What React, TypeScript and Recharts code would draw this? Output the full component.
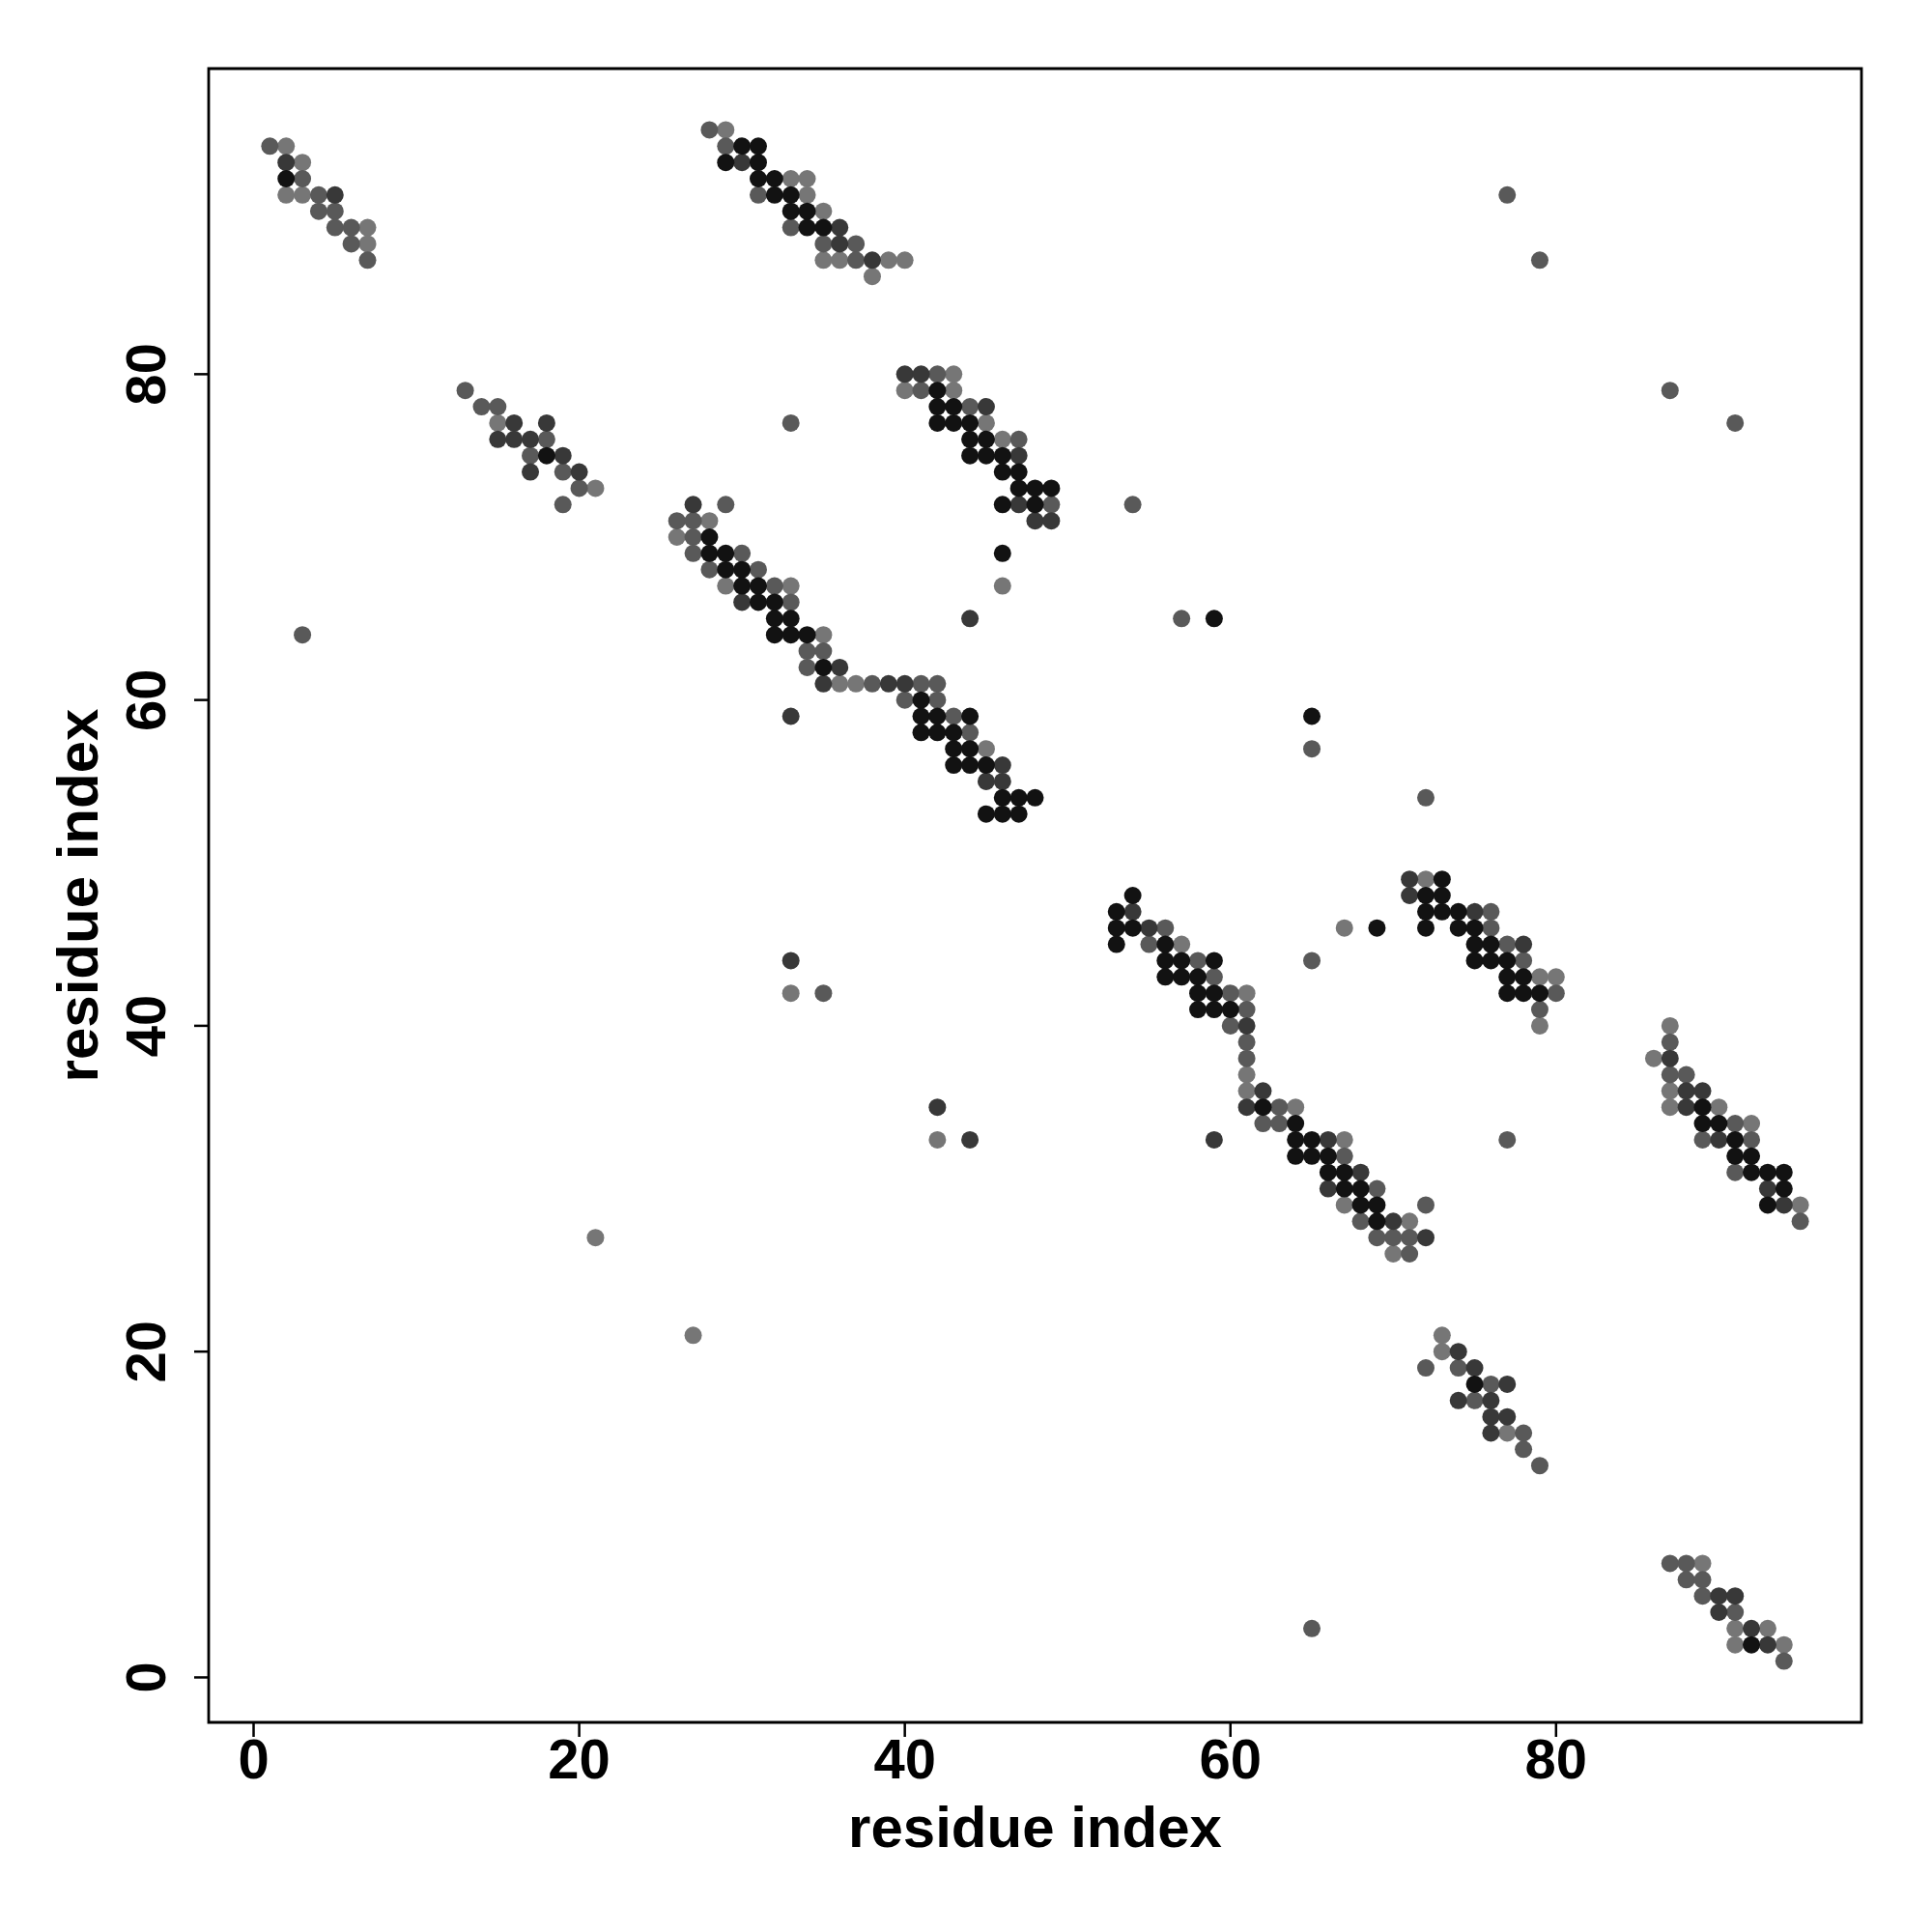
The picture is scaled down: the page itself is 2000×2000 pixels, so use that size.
import { ScatterChart, Scatter, XAxis, YAxis, ReferenceArea, Label } from 'recharts'

// contact map: [x, y] residue pairs, grouped by shade
const LIGHT: [number, number][] = [
  [2, 94], [3, 93], [2, 91], [3, 91], [7, 89], [7, 88],
  [29, 95], [33, 92], [34, 92], [34, 91], [35, 90], [35, 87], [36, 87], [39, 87], [40, 87], [38, 86],
  [15, 77], [21, 73],
  [43, 80], [40, 79], [43, 79], [45, 77], [46, 76],
  [28, 71], [26, 70], [29, 67], [33, 67], [35, 64], [36, 61], [37, 61],
  [45, 57],
  [57, 45], [61, 42], [61, 37], [61, 36], [64, 35], [67, 33], [67, 29], [71, 28], [70, 26],
  [72, 49], [79, 43], [80, 43], [79, 40],
  [87, 40], [86, 38], [87, 36], [87, 35], [90, 35], [92, 34], [95, 29],
  [73, 21], [73, 20], [77, 15],
  [89, 7], [91, 3], [93, 3], [91, 2], [94, 2],
  [46, 67], [67, 46], [33, 42], [42, 33], [21, 27], [27, 21],
]

const MID: [number, number][] = [
  [1, 94], [3, 92], [4, 91], [4, 90], [5, 90], [5, 89], [6, 89], [6, 88], [7, 87],
  [28, 95], [29, 94], [31, 91], [33, 89], [35, 88], [37, 88], [37, 87],
  [13, 79], [14, 78], [15, 78], [18, 76], [17, 75], [19, 74], [20, 73], [19, 72],
  [42, 80], [41, 79], [44, 78], [47, 76], [49, 72],
  [29, 72], [26, 71], [27, 71], [27, 70], [27, 69], [30, 69], [28, 68], [31, 68], [32, 67], [33, 66],
  [34, 63], [35, 63], [34, 62], [38, 61], [41, 61], [42, 61],
  [40, 60], [42, 60], [43, 59], [44, 58],
  [56, 46], [55, 45], [58, 44], [59, 43], [60, 42], [61, 41], [60, 40], [61, 39], [61, 38],
  [63, 35], [62, 34], [63, 34], [67, 32], [69, 30], [72, 29], [68, 28], [69, 27], [70, 27], [71, 27], [71, 26],
  [76, 47], [76, 46], [77, 45], [78, 44], [80, 42], [79, 41],
  [87, 39], [87, 37], [88, 37], [91, 34], [89, 33], [92, 33], [91, 31], [95, 28],
  [72, 19], [74, 19], [76, 18], [75, 17], [78, 15], [78, 14], [79, 13],
  [87, 7], [88, 7], [88, 6], [89, 6], [89, 5], [91, 4], [94, 1],
  [77, 91], [79, 87], [87, 79], [91, 77], [33, 77], [54, 72], [72, 54], [57, 65], [65, 57],
  [3, 64], [65, 44], [35, 42], [77, 33], [65, 3],
]

const DARK: [number, number][] = [
  [2, 93], [5, 91],
  [30, 93], [36, 89], [36, 88], [38, 87],
  [16, 77], [18, 77], [15, 76], [16, 76], [17, 76], [19, 75], [17, 74], [20, 74],
  [40, 80], [41, 80], [45, 78], [47, 75], [47, 72], [48, 71], [49, 71],
  [27, 72], [30, 66], [36, 62], [35, 61],
  [39, 61], [40, 61], [46, 56], [45, 55], [46, 55],
  [54, 47], [55, 46], [61, 40], [62, 36], [61, 35], [66, 33], [68, 31], [66, 30], [70, 28], [72, 27],
  [71, 49], [71, 48], [75, 47], [78, 45],
  [87, 38], [88, 36], [89, 36], [88, 35], [90, 33], [93, 30], [94, 29],
  [74, 20], [75, 19], [77, 18], [74, 17], [76, 17], [76, 16], [77, 16], [76, 15],
  [90, 5], [91, 5], [90, 4], [92, 3], [93, 2],
  [44, 65], [33, 59], [33, 44], [42, 35], [44, 33], [59, 33],
]

const BLACK: [number, number][] = [
  [2, 92],
  [30, 94], [31, 94], [29, 93], [31, 93], [31, 92], [32, 92], [32, 91], [33, 91], [33, 90], [34, 90], [34, 89], [35, 89],
  [18, 75],
  [42, 79], [42, 78], [43, 78], [42, 77], [43, 77], [44, 77], [44, 76], [45, 76], [44, 75], [45, 75], [46, 75],
  [46, 74], [47, 74], [47, 73], [48, 73], [49, 73], [46, 72], [48, 72],
  [28, 70], [28, 69], [29, 69], [29, 68], [30, 68], [30, 67], [31, 67], [31, 66], [32, 66], [32, 65], [33, 65],
  [32, 64], [33, 64], [34, 64], [35, 62],
  [41, 60], [41, 59], [42, 59], [44, 59], [41, 58], [42, 58], [43, 58], [43, 57], [44, 57], [43, 56], [44, 56], [45, 56],
  [46, 54], [47, 54], [48, 54], [45, 53], [46, 53], [47, 53],
  [54, 48], [53, 47], [53, 46], [54, 46], [53, 45], [56, 45], [56, 44], [57, 44], [59, 44], [56, 43], [57, 43], [58, 43],
  [58, 42], [59, 42], [58, 41], [59, 41], [60, 41], [62, 35], [64, 34], [64, 33], [65, 33], [64, 32], [65, 32], [66, 32],
  [66, 31], [67, 31], [67, 30], [68, 30], [68, 29], [69, 29], [69, 28],
  [73, 49], [72, 48], [73, 48], [72, 47], [73, 47], [74, 47], [72, 46], [74, 46], [75, 46], [75, 45], [76, 45],
  [75, 44], [76, 44], [77, 44], [77, 43], [78, 43], [77, 42], [78, 42], [79, 42],
  [89, 35], [89, 34], [90, 34], [91, 33], [91, 32], [92, 32], [92, 31], [93, 31], [94, 31], [94, 30], [93, 29],
  [75, 18],
  [92, 2],
  [46, 69], [69, 46], [59, 65], [65, 59],
]

const TICKS = [0, 20, 40, 60, 80]
const DOMAIN: [number, number] = [-2.76, 98.76]

const SHADES = [
  { name: 'light', pts: LIGHT, color: '#767676' },
  { name: 'mid', pts: MID, color: '#595959' },
  { name: 'dark', pts: DARK, color: '#383838' },
  { name: 'black', pts: BLACK, color: '#121212' },
]

const FONT = '"Liberation Sans", Arial, Helvetica, sans-serif'

const XTick = (props: any) => (
  <text x={props.x} y={props.y + 41} textAnchor="middle" fontFamily={FONT} fontWeight="bold" fontSize={58} fill="#000">
    {props.payload.value}
  </text>
)

const YTick = (props: any) => {
  const bx = props.x - 28
  return (
    <text x={bx} y={props.y} transform={`rotate(-90, ${bx}, ${props.y})`} textAnchor="middle" fontFamily={FONT} fontWeight="bold" fontSize={58} fill="#000">
      {props.payload.value}
    </text>
  )
}

const XTitle = (props: any) => {
  const vb = props.viewBox
  return (
    <text x={vb.x + vb.width / 2} y={vb.y + 129} textAnchor="middle" fontFamily={FONT} fontWeight="bold" fontSize={60} fill="#000">
      residue index
    </text>
  )
}

const YTitle = (props: any) => {
  const vb = props.viewBox
  const bx = vb.x + 101
  const cy = vb.y + vb.height / 2
  return (
    <text x={bx} y={cy} transform={`rotate(-90, ${bx}, ${cy})`} textAnchor="middle" fontFamily={FONT} fontWeight="bold" fontSize={60} fill="#000">
      residue index
    </text>
  )
}

export default function App() {
  return (
    <div style={{ position: 'absolute', left: 0, top: 0, width: 2000, height: 2000, background: '#fff' }}>
      <ScatterChart width={2000} height={2000} margin={{ top: 71, right: 73, bottom: 0, left: 0 }}>
        <XAxis
          dataKey="x" type="number" domain={DOMAIN} ticks={TICKS} allowDataOverflow
          height={217} tickSize={15} axisLine={false}
          tickLine={{ stroke: '#000', strokeWidth: 2.5 }} tick={<XTick />}
        >
          <Label content={<XTitle />} />
        </XAxis>
        <YAxis
          dataKey="y" type="number" domain={DOMAIN} ticks={TICKS} allowDataOverflow
          width={216} tickSize={15} axisLine={false}
          tickLine={{ stroke: '#000', strokeWidth: 2.5 }} tick={<YTick />}
        >
          <Label content={<YTitle />} />
        </YAxis>
        {SHADES.map((s) => (
          <Scatter
            key={s.name}
            data={s.pts.map(([x, y]) => ({ x, y }))}
            isAnimationActive={false}
            shape={(p: any) => <circle cx={p.cx} cy={p.cy} r={9} fill={s.color} />}
          />
        ))}
        <ReferenceArea x1={DOMAIN[0]} x2={DOMAIN[1]} y1={DOMAIN[0]} y2={DOMAIN[1]} fill="none" stroke="#000" strokeWidth={2.8} fillOpacity={0} />
      </ScatterChart>
    </div>
  )
}
